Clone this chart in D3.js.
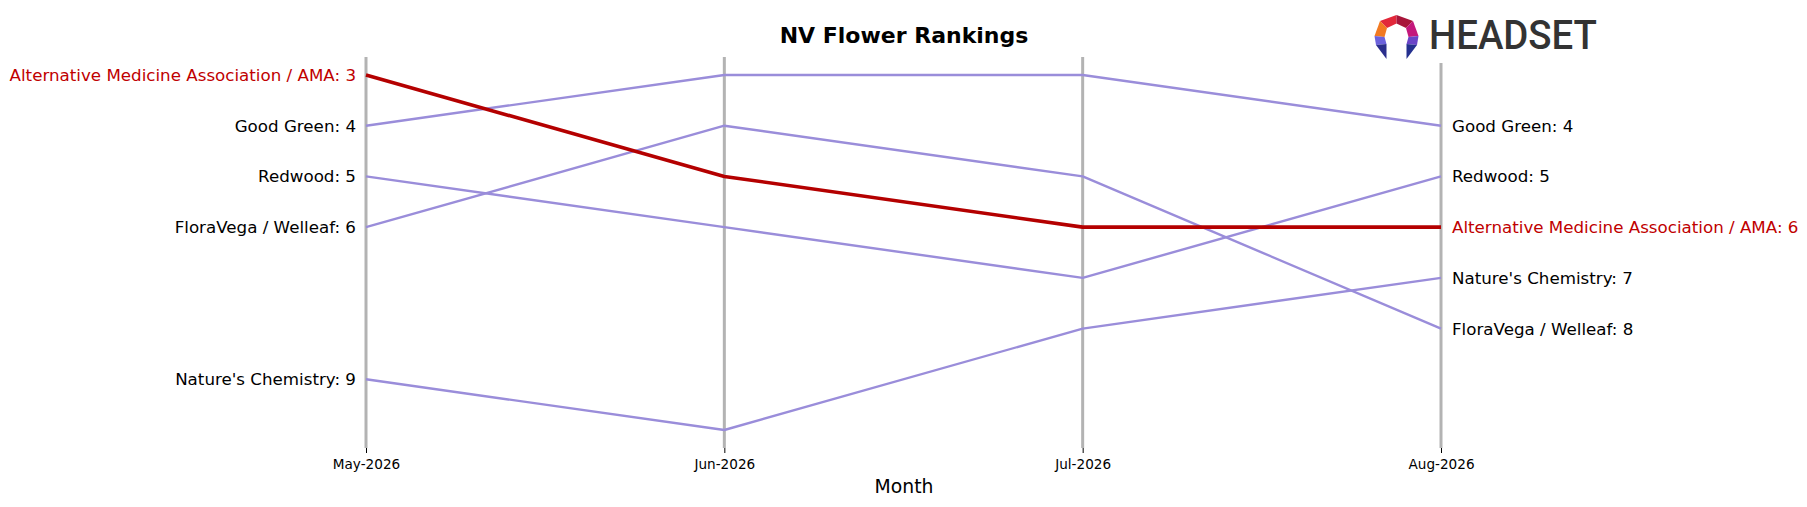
<!DOCTYPE html>
<html>
<head>
<meta charset="utf-8">
<script src="https://cdn.jsdelivr.net/npm/d3@7"></script>
<style>
  html, body { margin: 0; padding: 0; background: #fff; }
  svg { display: block; font-family: "DejaVu Sans", sans-serif; }
</style>
</head>
<body>
<svg id="chart" width="1807" height="507"></svg>
<script>
// ---- data ----
const months = ["May-2026", "Jun-2026", "Jul-2026", "Aug-2026"];
const brands = ["Alternative Medicine Association / AMA", "Good Green", "Redwood", "FloraVega / Welleaf", "Nature's Chemistry"];
const amaRanks = [3, 5, 6, 6];
const goodGreenRanks = [4, 3, 3, 4];
const redwoodRanks = [5, 6, 7, 5];
const floraVegaRanks = [6, 4, 5, 8];
const naturesChemistryRanks = [9, 10, 8, 7];
const highlightBrand = "Alternative Medicine Association / AMA";
const title = "NV Flower Rankings";
const xTitle = "Month";

const rankLists = [amaRanks, goodGreenRanks, redwoodRanks, floraVegaRanks, naturesChemistryRanks];
const series = brands.map((b, i) => ({ brand: b, ranks: rankLists[i] }));

// ---- layout ----
const svg = d3.select("#chart");
const x = d3.scalePoint().domain(months).range([366, 1441]);
const y = d3.scaleLinear().domain([3, 10]).range([75, 430]);
const purple = "#9a8dda";
const red = "#b40000";
const redText = "#c00000";

// vertical grey lines
svg.append("g").selectAll("line").data(months).join("line")
  .attr("x1", d => x(d)).attr("x2", d => x(d))
  .attr("y1", 57).attr("y2", 448)
  .attr("stroke", "#b3b3b3").attr("stroke-width", 3);

// axis
const axis = svg.append("g").attr("transform", "translate(0,448)")
  .call(d3.axisBottom(x).tickSize(5).tickPadding(6));
axis.select(".domain").remove();
axis.selectAll(".tick line").attr("stroke", "#000").attr("stroke-width", 1);
axis.selectAll(".tick text").attr("font-family", "DejaVu Sans").attr("font-size", 13.6).attr("fill", "#000");

// lines
const line = d3.line().x((d, i) => x(months[i])).y(d => y(d));
const ordered = series.filter(s => s.brand !== highlightBrand).concat(series.filter(s => s.brand === highlightBrand));
svg.append("g").selectAll("path").data(ordered).join("path")
  .attr("d", d => line(d.ranks))
  .attr("fill", "none")
  .attr("stroke", d => d.brand === highlightBrand ? red : purple)
  .attr("stroke-width", d => d.brand === highlightBrand ? 3.6 : 2.4)
  .attr("stroke-linejoin", "round");

// left labels
svg.append("g").selectAll("text").data(series).join("text")
  .attr("x", x(months[0]) - 10)
  .attr("y", d => y(d.ranks[0]))
  .attr("dy", "0.36em")
  .attr("text-anchor", "end")
  .attr("font-size", 16.7)
  .attr("fill", d => d.brand === highlightBrand ? redText : "#000")
  .text(d => `${d.brand}: ${d.ranks[0]}`);

// right labels
const last = months.length - 1;
svg.append("g").selectAll("text").data(series).join("text")
  .attr("x", x(months[last]) + 11)
  .attr("y", d => y(d.ranks[last]))
  .attr("dy", "0.36em")
  .attr("text-anchor", "start")
  .attr("font-size", 16.7)
  .attr("fill", d => d.brand === highlightBrand ? redText : "#000")
  .text(d => `${d.brand}: ${d.ranks[last]}`);

// title
svg.append("text").attr("x", 904).attr("y", 43).attr("text-anchor", "middle")
  .attr("font-size", 22).attr("font-weight", "bold").attr("fill", "#000").text(title);

// x axis title
svg.append("text").attr("x", 904).attr("y", 493).attr("text-anchor", "middle")
  .attr("font-size", 18.8).attr("fill", "#000").text(xTitle);

// logo
const logo = svg.append("g").attr("transform", "translate(1374,15)");
logo.append("rect").attr("x", -4).attr("y", -4).attr("width", 232).attr("height", 52).attr("fill", "#fff");
const P = {
  ot: [22.5, 0], oul: [6, 6], ol: [0.5, 21], oll: [2, 30], our: [39, 6], or: [44.5, 21], olr: [43, 30],
  it: [22.5, 8.5], iul: [13, 13], il: [10.5, 22], ill: [12.5, 29], iur: [32, 13], ir: [34.5, 22], ilr: [32.5, 29],
  lt: [12.5, 44], rt: [32.5, 44]
};
const pieces = [
  [["ot", "oul", "iul", "it"], "#e2283a"],
  [["ot", "our", "iur", "it"], "#a8153a"],
  [["oul", "ol", "il", "iul"], "#f27a22"],
  [["our", "or", "ir", "iur"], "#c4187c"],
  [["ol", "oll", "ill", "il"], "#6c62dc"],
  [["or", "olr", "ilr", "ir"], "#6a44c8"],
  [["oll", "lt", "ill"], "#2b2e8c"],
  [["olr", "rt", "ilr"], "#24308f"]
];
logo.selectAll("polygon").data(pieces).join("polygon")
  .attr("points", d => d[0].map(k => P[k].join(",")).join(" "))
  .attr("fill", d => d[1]);
logo.append("text").attr("x", 55).attr("y", 34).attr("font-family", "Roboto, sans-serif")
  .attr("font-size", 40).attr("font-weight", 500).attr("fill", "#333")
  .attr("textLength", 168).attr("lengthAdjust", "spacingAndGlyphs").text("HEADSET");
</script>
</body>
</html>
